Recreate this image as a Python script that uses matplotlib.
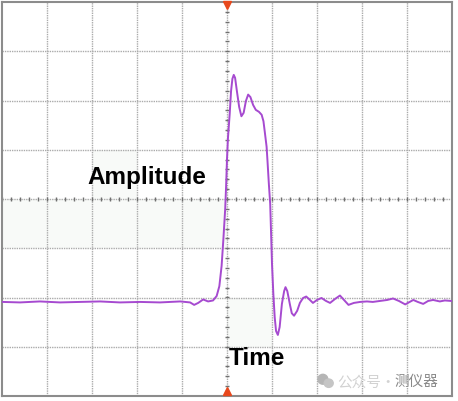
import numpy as np
import matplotlib.pyplot as plt
from matplotlib.patches import Rectangle, Ellipse

# scope trace, in screen divisions (x: -5..5, y: -4..4)
time_div = [-4.98, -4.6, -4.16, -3.71, -3.27, -2.82, -2.38, -1.93, -1.49, -1.04,
            -0.82, -0.73, -0.64, -0.53, -0.42, -0.31, -0.23, -0.17, -0.12, -0.08,
            -0.04, -0.02, 0.0, 0.02, 0.06, 0.09, 0.12, 0.15, 0.18, 0.22,
            0.27, 0.32, 0.37, 0.42, 0.47, 0.52, 0.58, 0.64, 0.71, 0.77,
            0.81, 0.84, 0.88, 0.9, 0.93, 0.96, 0.98, 1.0, 1.03, 1.06,
            1.09, 1.13, 1.17, 1.22, 1.27, 1.3, 1.34, 1.4, 1.44, 1.49,
            1.56, 1.62, 1.69, 1.76, 1.82, 1.91, 2.0, 2.1, 2.2, 2.29,
            2.4, 2.51, 2.6, 2.7, 2.82, 2.96, 3.11, 3.24, 3.4, 3.56,
            3.69, 3.82, 3.96, 4.04, 4.14, 4.24, 4.36, 4.47, 4.58, 4.73,
            4.84, 4.98]
amplitude_div = [-2.09, -2.1, -2.08, -2.1, -2.09, -2.08, -2.1, -2.09, -2.1, -2.08,
                 -2.1, -2.15, -2.11, -2.04, -2.08, -2.06, -1.97, -1.77, -1.36, -0.81,
                 -0.2, 0.26, 0.81, 1.22, 1.73, 2.19, 2.44, 2.52, 2.46, 2.19,
                 1.87, 1.68, 1.75, 1.99, 2.12, 2.07, 1.91, 1.81, 1.77, 1.71,
                 1.58, 1.36, 1.06, 0.77, 0.31, -0.1, -0.71, -1.32, -1.93, -2.4,
                 -2.68, -2.76, -2.6, -2.13, -1.87, -1.79, -1.87, -2.15, -2.32, -2.37,
                 -2.27, -2.11, -2.01, -1.98, -2.03, -2.11, -2.05, -2.01, -2.07, -2.11,
                 -2.03, -1.96, -2.05, -2.15, -2.11, -2.09, -2.08, -2.09, -2.07, -2.05,
                 -2.02, -2.07, -2.14, -2.1, -2.05, -2.09, -2.13, -2.07, -2.05, -2.08,
                 -2.06, -2.07]

fig = plt.figure(figsize=(4.58, 4.02), dpi=100)
ax = fig.add_axes([2 / 458, 5 / 402, 450 / 458, 394 / 402])
ax.set_xlim(-5, 5)
ax.set_ylim(-4, 4)
ax.set_xticks([])
ax.set_yticks([])
for s in ax.spines.values():
    s.set_color("#8c8c8c")
    s.set_linewidth(1.5)

# very faint shaded patches
for (x0, y0, w, h) in [(-5, -1, 5, 1), (-3, 0, 1, 1), (0, -3, 1, 1)]:
    ax.add_patch(Rectangle((x0, y0), w, h, color="#f8faf8", lw=0, zorder=0))

# graticule
for x in range(-4, 5):
    ax.axvline(x, color="#ababab", lw=1, ls=(0, (1, 0.7)), zorder=1)
for y in range(-3, 4):
    ax.axhline(y, color="#ababab", lw=1, ls=(0, (1, 0.7)), zorder=1)

# minor ticks on the centre cross
minor = np.arange(-5, 5.01, 0.2)
ax.vlines(minor, -0.05, 0.05, color="#707070", lw=1, zorder=1)
minor_y = np.arange(-4, 4.01, 0.2)
ax.hlines(minor_y, -0.04, 0.04, color="#707070", lw=1, zorder=1)

ax.plot(time_div, amplitude_div, color="#a64ad0", lw=1.4, zorder=3)

# trigger markers
ax.plot([0], [3.94], marker="v", color="#e8481c", ms=6, clip_on=False, zorder=4)
ax.plot([0], [-3.9], marker="^", color="#e8481c", ms=6, clip_on=False, zorder=4)

ax.text(-1.78, 0.45, "Amplitude", fontsize=17.5, fontweight="bold",
        family="Liberation Sans", ha="center", va="center", zorder=5)
ax.text(0.04, -3.22, "Time", fontsize=17.5, fontweight="bold",
        family="Liberation Sans", ha="left", va="center", zorder=5)

# watermark
ax.add_patch(Ellipse((2.13, -3.66), 0.22, 0.2, color="#b5b5b5", zorder=5))
ax.add_patch(Ellipse((2.26, -3.74), 0.2, 0.17, color="#c5c5c5", zorder=5))
ax.text(2.45, -3.7, "公众号·", fontsize=10.5, color="#d2d2d2",
        family=["Noto Sans CJK SC", "DejaVu Sans"], ha="left", va="center", zorder=5)
ax.text(3.73, -3.7, "测仪器", fontsize=10.5, color="#8a8a8a",
        family=["Noto Sans CJK SC", "DejaVu Sans"], ha="left", va="center", zorder=5)

fig.savefig("out.png", dpi=100)
